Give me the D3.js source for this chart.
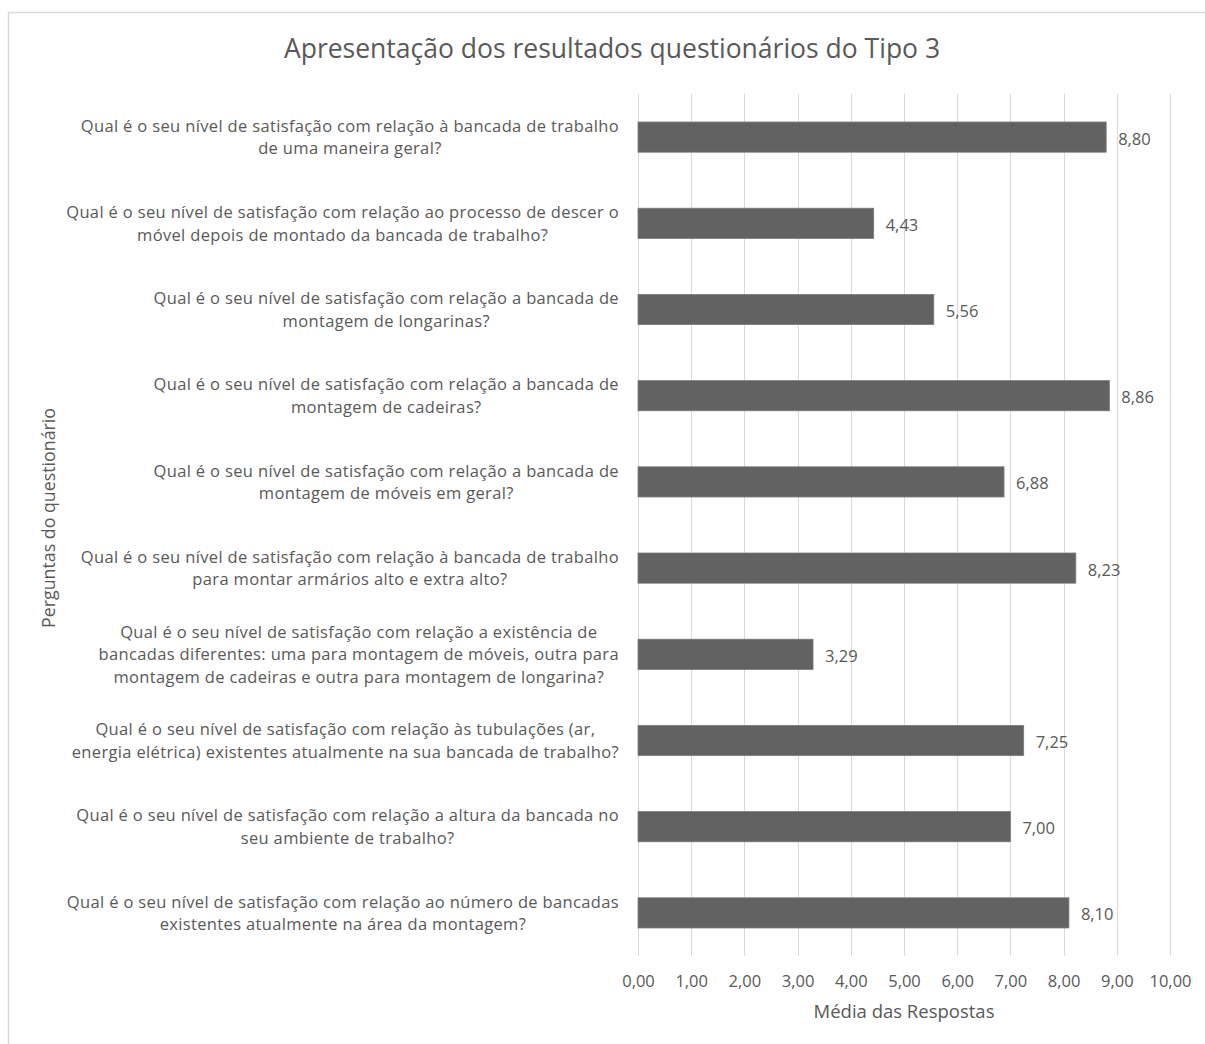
<!DOCTYPE html>
<html>
<head>
<meta charset="utf-8">
<script src="https://cdn.jsdelivr.net/npm/d3@7"></script>
<style>
  body { margin: 0; background: #fff; }
  text { font-family: "Open Sans", sans-serif; fill: #595959; }
</style>
</head>
<body>
<div id="chart"></div>
<script>
var title = "Apresentação dos resultados questionários do Tipo 3";
var xTitle = "Média das Respostas";
var yTitle = "Perguntas do questionário";

// each question as the lines it wraps to in the picture, top to bottom
var questions = [
  ["Qual é o seu nível de satisfação com relação à bancada de trabalho", "de uma maneira geral?"],
  ["Qual é o seu nível de satisfação com relação ao processo de descer o", "móvel depois de montado da bancada de trabalho?"],
  ["Qual é o seu nível de satisfação com relação a bancada de", "montagem de longarinas?"],
  ["Qual é o seu nível de satisfação com relação a bancada de", "montagem de cadeiras?"],
  ["Qual é o seu nível de satisfação com relação a bancada de", "montagem de móveis em geral?"],
  ["Qual é o seu nível de satisfação com relação à bancada de trabalho", "para montar armários alto e extra alto?"],
  ["Qual é o seu nível de satisfação com relação a existência de", "bancadas diferentes: uma para montagem de móveis, outra para", "montagem de cadeiras e outra para montagem de longarina?"],
  ["Qual é o seu nível de satisfação com relação às tubulações (ar,", "energia elétrica) existentes atualmente na sua bancada de trabalho?"],
  ["Qual é o seu nível de satisfação com relação a altura da bancada no", "seu ambiente de trabalho?"],
  ["Qual é o seu nível de satisfação com relação ao número de bancadas", "existentes atualmente na área da montagem?"]
];
var values = [8.80, 4.43, 5.56, 8.86, 6.88, 8.23, 3.29, 7.25, 7.00, 8.10];
var xTicks = [0, 1, 2, 3, 4, 5, 6, 7, 8, 9, 10];

var width = 1205, height = 1044;
var margin = { top: 94, left: 638, right: 35, bottom: 88 };

var svg = d3.select("#chart").append("svg")
  .attr("width", width)
  .attr("height", height);

// chart frame
svg.append("rect")
  .attr("x", 8.5).attr("y", 12.5)
  .attr("width", width + 10).attr("height", height + 10)
  .attr("fill", "none")
  .attr("stroke", "#d9d9d9")
  .attr("stroke-width", 1.5);

var x = d3.scaleLinear().domain([0, 10]).range([margin.left, width - margin.right]);
var y = d3.scaleBand()
  .domain(d3.range(values.length))
  .range([margin.top, height - margin.bottom])
  .paddingInner(0.65).paddingOuter(0.325);

// gridlines
svg.append("g").selectAll("line")
  .data(xTicks)
  .enter().append("line")
  .attr("x1", function(d) { return Math.round(x(d)) + 0.5; })
  .attr("x2", function(d) { return Math.round(x(d)) + 0.5; })
  .attr("y1", margin.top)
  .attr("y2", height - margin.bottom)
  .attr("stroke", "#d9d9d9")
  .attr("stroke-width", 1);

// tick labels
var xAxis = svg.append("g")
  .attr("transform", "translate(0," + (height - margin.bottom) + ")")
  .call(d3.axisBottom(x).tickValues(xTicks).tickSize(0).tickPadding(0)
    .tickFormat(function(d) { return d.toFixed(2).replace(".", ","); }));
xAxis.select(".domain").remove();
xAxis.selectAll("text")
  .attr("dy", null)
  .attr("y", 31)
  .style("font-family", "'Open Sans', sans-serif")
  .style("font-size", "16.5px")
  .attr("fill", "#595959");

// bars
svg.append("g").selectAll("rect")
  .data(values)
  .enter().append("rect")
  .attr("x", x(0))
  .attr("y", function(d, i) { return y(i); })
  .attr("width", function(d) { return x(d) - x(0); })
  .attr("height", y.bandwidth())
  .attr("fill", "#626262")
  .attr("stroke", "#7a7a7a")
  .attr("stroke-width", 0.8);

// value labels
svg.append("g").selectAll("text")
  .data(values)
  .enter().append("text")
  .attr("x", function(d) { return x(d) + 12; })
  .attr("y", function(d, i) { return y(i) + y.bandwidth() / 2 + 7.5; })
  .style("font-size", "16.5px")
  .text(function(d) { return d.toFixed(2).replace(".", ","); });

// category labels: centred lines, block right-aligned to the plot
var labelRight = margin.left - 19;
var lineH = 22.5;
var cat = svg.append("g").selectAll("text")
  .data(questions)
  .enter().append("text")
  .style("font-size", "16.5px")
  .style("letter-spacing", "0.35px")
  .attr("text-anchor", "middle");

cat.each(function(lines, i) {
  var t = d3.select(this);
  var cy = y(i) + y.bandwidth() / 2;
  var y0 = cy - (lines.length - 1) * lineH / 2 + 6;
  lines.forEach(function(l, k) {
    t.append("tspan").attr("y", y0 + k * lineH).text(l);
  });
  var maxW = 0;
  t.selectAll("tspan").each(function() {
    maxW = Math.max(maxW, this.getComputedTextLength());
  });
  t.selectAll("tspan").attr("x", labelRight - maxW / 2);
});

// title
svg.append("text")
  .attr("x", 612)
  .attr("y", 58)
  .attr("text-anchor", "middle")
  .style("font-size", "26.5px")
  .text(title);

// axis titles
svg.append("text")
  .attr("x", x(5))
  .attr("y", 1018)
  .attr("text-anchor", "middle")
  .style("font-size", "18.5px")
  .text(xTitle);

svg.append("text")
  .attr("transform", "translate(55,518) rotate(-90)")
  .attr("text-anchor", "middle")
  .style("font-size", "17.8px")
  .text(yTitle);
</script>
</body>
</html>
